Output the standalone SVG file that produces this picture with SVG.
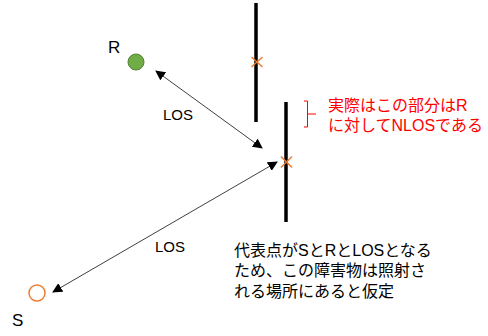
<svg xmlns="http://www.w3.org/2000/svg" width="488" height="336" viewBox="0 0 488 336">
<defs>
<marker id="ah" viewBox="0 0 10 10" refX="9" refY="5" markerWidth="10" markerHeight="10" markerUnits="userSpaceOnUse" orient="auto-start-reverse">
<path d="M0,0 L10,5 L0,10 z" fill="#000"/>
</marker>
</defs>
<style>
text{font-family:"Liberation Sans","Noto Sans CJK JP",sans-serif;font-size:16px;fill:#000}
.red{fill:#ff0000}
.wall{stroke:#000;stroke-width:3.5}
.x{stroke:#ed7d31;stroke-width:1.5}
.conn{stroke:#404040;stroke-width:1;fill:none}
.lbl{font-size:15px}
.big{font-size:17px}
</style>
<rect width="488" height="336" fill="#fff"/>
<g id="R">
<circle cx="136" cy="62" r="8" fill="#70ad47" stroke="#548235" stroke-width="1"/>
<text class="big" x="108" y="53">R</text>
</g>
<g id="S">
<circle cx="37" cy="293" r="8" fill="#fff" stroke="#ed7d31" stroke-width="1.5"/>
<text class="big" x="12" y="326">S</text>
</g>
<g id="wall1">
<line class="wall" x1="256" y1="3" x2="256" y2="122"/>
<path class="x" d="M251.5,57 L262.5,67 M262.5,57 L251.5,67"/>
</g>
<g id="wall2">
<line class="wall" x1="286" y1="102" x2="286" y2="222"/>
<path class="x" d="M281,156.5 L292,167.5 M292,156.5 L281,167.5"/>
</g>
<g id="connectors">
<line class="conn" x1="156" y1="71" x2="262" y2="148" marker-start="url(#ah)" marker-end="url(#ah)"/>
<line class="conn" x1="53" y1="292" x2="277" y2="162" marker-start="url(#ah)" marker-end="url(#ah)"/>
<text class="lbl" x="163" y="120">LOS</text>
<text class="lbl" x="155" y="252">LOS</text>
</g>
<g id="note-red">
<path d="M304,101 L307.5,101 L307.5,127 L304,127 M307.5,114 L316,114" stroke="#ff0000" stroke-width="1" fill="none"/>
<text class="red" x="328" y="111">実際はこの部分はR</text>
<text class="red" x="328" y="131">に対してNLOSである</text>
</g>
<g id="note">
<text x="234" y="256">代表点がSとRとLOSとなる</text>
<text x="234" y="276">ため、この障害物は照射さ</text>
<text x="234" y="297">れる場所にあると仮定</text>
</g>
</svg>
